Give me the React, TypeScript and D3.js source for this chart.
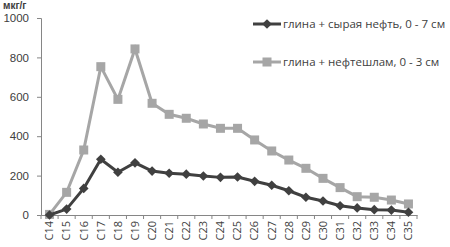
import { useEffect, useRef } from "react";
import * as d3 from "d3";

const categories = ["C14", "C15", "C16", "C17", "C18", "C19", "C20", "C21", "C22", "C23", "C24", "C25", "C26", "C27", "C28", "C29", "C30", "C31", "C32", "C33", "C34", "C35"];
const crudeOil = [0, 30, 135, 283, 217, 265, 223, 212, 207, 198, 191, 193, 171, 151, 123, 90, 71, 47, 36, 27, 25, 14];
const oilSludge = [3, 115, 330, 753, 587, 843, 567, 511, 491, 462, 440, 440, 381, 325, 279, 237, 186, 139, 93, 90, 76, 56];
const yTicks = [0, 200, 400, 600, 800, 1000];
const seriesNames = ["глина + сырая нефть, 0 - 7 см", "глина + нефтешлам, 0 - 3 см"];

export default function App() {
  const svgRef = useRef<SVGSVGElement>(null);

  useEffect(() => {
    const svg = d3.select(svgRef.current);
    svg.selectAll("*").remove();

    const font = "Open Sans, sans-serif";
    const tickFont = "Liberation Sans, Arial, sans-serif";
    const left = 41, right = 417, top = 18, bottom = 215;

    const x = d3.scaleBand().domain(categories).range([left, right]);
    const y = d3.scaleLinear().domain([0, 1000]).range([bottom, top]);

    // y axis
    const yAxis = svg.append("g")
      .attr("transform", `translate(${left},0)`)
      .call(d3.axisLeft(y).tickValues(yTicks).tickFormat(d3.format("d")).tickSize(4).tickPadding(8));
    yAxis.select(".domain").attr("stroke", "#868686");
    yAxis.selectAll(".tick line").attr("stroke", "#868686");
    yAxis.selectAll("text")
      .attr("font-family", tickFont).attr("font-size", 11.5).attr("fill", "#404040");

    // x axis
    const xAxis = svg.append("g")
      .attr("transform", `translate(0,${bottom})`)
      .call(d3.axisBottom(x).tickSize(0).tickSizeOuter(0));
    xAxis.select(".domain").attr("stroke", "#868686");
    xAxis.selectAll(".tick line").remove();
    xAxis.selectAll(".tick text")
      .attr("font-family", font).attr("font-size", 11).attr("fill", "#404040")
      .attr("transform", "rotate(-90)")
      .attr("text-anchor", "end")
      .attr("dy", "0.35em")
      .attr("x", -6).attr("y", 0);
    // ticks between categories
    svg.append("g").selectAll("line")
      .data(categories.concat(["end"]))
      .enter().append("line")
      .attr("x1", (d, i) => left + i * x.step())
      .attr("x2", (d, i) => left + i * x.step())
      .attr("y1", bottom).attr("y2", bottom + 4)
      .attr("stroke", "#868686");

    const line = d3.line<number>()
      .x((d, i) => x(categories[i])! + x.bandwidth() / 2)
      .y(d => y(d));

    // light series
    svg.append("path").datum(oilSludge)
      .attr("d", line).attr("fill", "none")
      .attr("stroke", "#a6a6a6").attr("stroke-width", 3);
    svg.append("g").selectAll("rect")
      .data(oilSludge).enter().append("rect")
      .attr("x", (d, i) => x(categories[i])! + x.bandwidth() / 2 - 4.5)
      .attr("y", d => y(d) - 4.5)
      .attr("width", 9).attr("height", 9)
      .attr("fill", "#a6a6a6");

    // dark series
    svg.append("path").datum(crudeOil)
      .attr("d", line).attr("fill", "none")
      .attr("stroke", "#404040").attr("stroke-width", 3);
    const diamond = d3.symbol().type(d3.symbolDiamond2).size(60);
    svg.append("g").selectAll("path")
      .data(crudeOil).enter().append("path")
      .attr("d", diamond)
      .attr("transform", (d, i) => `translate(${x(categories[i])! + x.bandwidth() / 2},${y(d)})`)
      .attr("fill", "#404040");

    // unit label
    svg.append("text")
      .attr("x", 3).attr("y", 9)
      .attr("font-family", tickFont).attr("font-size", 10).attr("font-weight", "bold")
      .attr("fill", "#404040")
      .text("мкг/г");

    // legend
    const legend = [
      { name: seriesNames[0], color: "#404040", shape: "diamond", yPos: 24 },
      { name: seriesNames[1], color: "#a6a6a6", shape: "square", yPos: 62 },
    ];
    legend.forEach(l => {
      svg.append("line")
        .attr("x1", 253).attr("x2", 281).attr("y1", l.yPos).attr("y2", l.yPos)
        .attr("stroke", l.color).attr("stroke-width", 3);
      if (l.shape === "diamond") {
        svg.append("path").attr("d", diamond)
          .attr("transform", `translate(267,${l.yPos})`).attr("fill", l.color);
      } else {
        svg.append("rect").attr("x", 262.5).attr("y", l.yPos - 4.5)
          .attr("width", 9).attr("height", 9).attr("fill", l.color);
      }
      svg.append("text")
        .attr("x", 283).attr("y", l.yPos).attr("dy", "0.35em")
        .attr("font-family", font).attr("font-size", 11.5).attr("fill", "#404040")
        .text(l.name);
    });
  }, []);

  return (
    <svg ref={svgRef} width={450} height={247}
      style={{ position: "absolute", left: 0, top: 0, background: "#fff" }} />
  );
}
